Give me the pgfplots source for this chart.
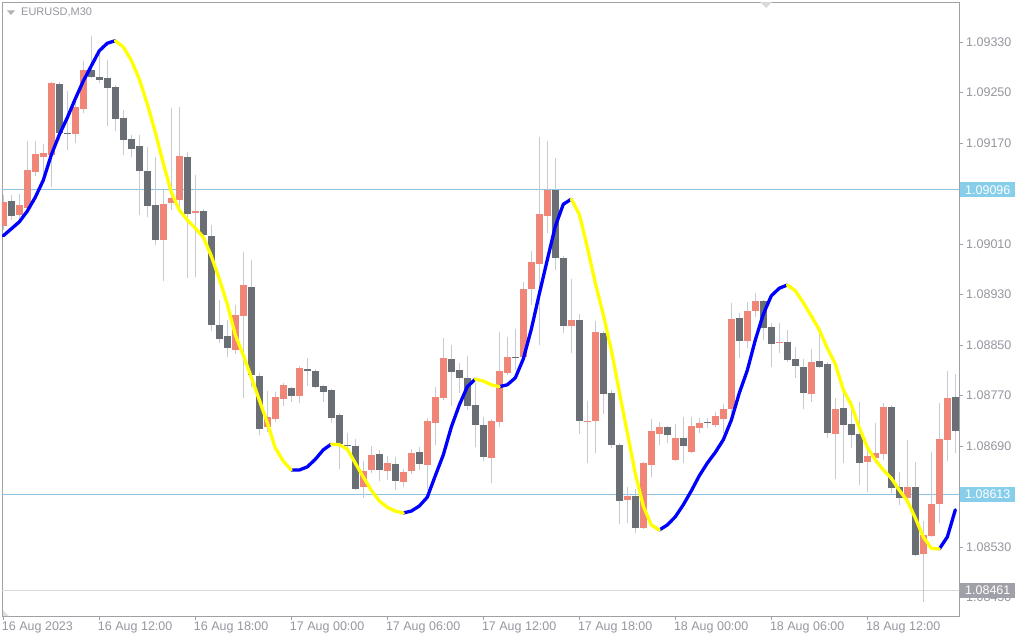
\documentclass[border=0pt]{standalone}
\usepackage{fontspec}
\setmainfont{Liberation Sans}
\usepackage{pgfplots}
\usepackage{pgfplotstable}
\pgfplotsset{compat=1.18}

\definecolor{bull}{RGB}{239,134,120}
\definecolor{bear}{RGB}{106,110,117}
\definecolor{wick}{RGB}{200,202,210}
\definecolor{lblgray}{RGB}{150,150,160}
\definecolor{framegray}{RGB}{160,160,165}
\definecolor{hline}{RGB}{140,195,225}
\definecolor{boxblue}{RGB}{135,206,235}
\definecolor{boxgray}{RGB}{160,160,168}
\definecolor{mablue}{RGB}{0,0,255}
\definecolor{mayellow}{RGB}{255,255,0}

% EURUSD M30: index, open, high, low, close, smoothed line
\pgfplotstableread{
k o h l c m
0 1.09038 1.09088 1.09032 1.09077 1.09023
1 1.09078 1.09088 1.09048 1.09054 1.09034
2 1.09056 1.09089 1.09048 1.09072 1.09045
3 1.09067 1.09173 1.09059 1.09127 1.09062
4 1.09124 1.09173 1.09118 1.09153 1.09084
5 1.09148 1.09168 1.09111 1.09154 1.09111
6 1.09151 1.09267 1.09100 1.09265 1.09151
7 1.09263 1.09267 1.09175 1.09186 1.09183
8 1.09186 1.09252 1.09159 1.09184 1.09210
9 1.09184 1.09238 1.09170 1.09227 1.09240
10 1.09224 1.09300 1.09218 1.09286 1.09268
11 1.09286 1.09340 1.09273 1.09275 1.09292
12 1.09275 1.09319 1.09265 1.09270 1.09316
13 1.09273 1.09301 1.09197 1.09257 1.09328
14 1.09259 1.09262 1.09189 1.09208 1.09332
15 1.09210 1.09222 1.09151 1.09175 1.09322
16 1.09176 1.09183 1.09148 1.09160 1.09301
17 1.09165 1.09183 1.09056 1.09126 1.09271
18 1.09126 1.09164 1.09053 1.09070 1.09232
19 1.09072 1.09148 1.09008 1.09016 1.09187
20 1.09016 1.09096 1.08951 1.09073 1.09138
21 1.09075 1.09225 1.09064 1.09083 1.09092
22 1.09080 1.09227 1.09059 1.09149 1.09064
23 1.09148 1.09156 1.08956 1.09057 1.09048
24 1.09059 1.09119 1.08958 1.09062 1.09035
25 1.09062 1.09065 1.09019 1.09024 1.09021
26 1.09023 1.09040 1.08872 1.08882 1.08991
27 1.08882 1.08921 1.08853 1.08860 1.08955
28 1.08864 1.08890 1.08831 1.08845 1.08915
29 1.08842 1.08913 1.08836 1.08898 1.08866
30 1.08896 1.08997 1.08766 1.08945 1.08834
31 1.08942 1.08985 1.08784 1.08803 1.08799
32 1.08801 1.08806 1.08707 1.08717 1.08763
33 1.08720 1.08777 1.08712 1.08736 1.08727
34 1.08733 1.08776 1.08728 1.08768 1.08687
35 1.08765 1.08790 1.08753 1.08787 1.08666
36 1.08782 1.08784 1.08760 1.08769 1.08652
37 1.08769 1.08817 1.08758 1.08814 1.08652
38 1.08812 1.08829 1.08785 1.08809 1.08657
39 1.08809 1.08812 1.08782 1.08784 1.08669
40 1.08785 1.08787 1.08760 1.08776 1.08684
41 1.08779 1.08780 1.08727 1.08734 1.08693
42 1.08739 1.08742 1.08654 1.08693 1.08692
43 1.08692 1.08711 1.08684 1.08690 1.08685
44 1.08690 1.08701 1.08620 1.08622 1.08663
45 1.08625 1.08666 1.08608 1.08650 1.08641
46 1.08652 1.08690 1.08647 1.08676 1.08620
47 1.08677 1.08684 1.08635 1.08652 1.08603
48 1.08650 1.08674 1.08636 1.08663 1.08593
49 1.08661 1.08673 1.08620 1.08635 1.08587
50 1.08633 1.08654 1.08625 1.08649 1.08584
51 1.08650 1.08685 1.08646 1.08679 1.08587
52 1.08680 1.08688 1.08652 1.08661 1.08595
53 1.08660 1.08734 1.08620 1.08730 1.08609
54 1.08727 1.08784 1.08692 1.08768 1.08643
55 1.08766 1.08861 1.08763 1.08829 1.08676
56 1.08828 1.08850 1.08753 1.08807 1.08720
57 1.08810 1.08822 1.08774 1.08798 1.08755
58 1.08798 1.08833 1.08747 1.08753 1.08784
59 1.08755 1.08790 1.08688 1.08723 1.08796
60 1.08723 1.08736 1.08666 1.08673 1.08793
61 1.08671 1.08733 1.08631 1.08730 1.08787
62 1.08728 1.08871 1.08720 1.08809 1.08784
63 1.08806 1.08863 1.08803 1.08831 1.08787
64 1.08829 1.08875 1.08810 1.08828 1.08798
65 1.08831 1.08950 1.08826 1.08939 1.08828
66 1.08939 1.08999 1.08913 1.08981 1.08875
67 1.08978 1.09180 1.08850 1.09057 1.08931
68 1.09054 1.09173 1.09027 1.09096 1.08985
69 1.09096 1.09146 1.08969 1.08988 1.09038
70 1.08988 1.08991 1.08869 1.08880 1.09073
71 1.08880 1.08955 1.08837 1.08890 1.09081
72 1.08890 1.08899 1.08709 1.08730 1.09057
73 1.08728 1.08761 1.08663 1.08730 1.09005
74 1.08730 1.08888 1.08679 1.08871 1.08948
75 1.08869 1.08872 1.08741 1.08772 1.08898
76 1.08774 1.08779 1.08687 1.08692 1.08842
77 1.08692 1.08695 1.08567 1.08603 1.08776
78 1.08605 1.08625 1.08568 1.08611 1.08711
79 1.08611 1.08622 1.08552 1.08560 1.08646
80 1.08560 1.08665 1.08559 1.08663 1.08595
81 1.08660 1.08733 1.08641 1.08714 1.08565
82 1.08709 1.08728 1.08692 1.08720 1.08557
83 1.08720 1.08722 1.08695 1.08707 1.08565
84 1.08668 1.08725 1.08666 1.08703 1.08578
85 1.08703 1.08736 1.08663 1.08690 1.08597
86 1.08680 1.08736 1.08679 1.08722 1.08619
87 1.08719 1.08734 1.08711 1.08727 1.08643
88 1.08728 1.08734 1.08719 1.08727 1.08663
89 1.08723 1.08744 1.08720 1.08738 1.08680
90 1.08733 1.08757 1.08711 1.08749 1.08700
91 1.08749 1.08917 1.08742 1.08891 1.08731
92 1.08893 1.08901 1.08829 1.08856 1.08774
93 1.08856 1.08918 1.08845 1.08904 1.08810
94 1.08904 1.08932 1.08894 1.08920 1.08858
95 1.08920 1.08921 1.08858 1.08877 1.08899
96 1.08879 1.08885 1.08815 1.08852 1.08928
97 1.08853 1.08885 1.08837 1.08855 1.08940
98 1.08855 1.08874 1.08823 1.08826 1.08945
99 1.08828 1.08847 1.08798 1.08817 1.08936
100 1.08815 1.08828 1.08749 1.08774 1.08917
101 1.08772 1.08844 1.08760 1.08823 1.08896
102 1.08825 1.08874 1.08814 1.08815 1.08874
103 1.08820 1.08823 1.08703 1.08711 1.08845
104 1.08709 1.08766 1.08638 1.08749 1.08820
105 1.08750 1.08776 1.08663 1.08723 1.08779
106 1.08725 1.08761 1.08687 1.08707 1.08755
107 1.08709 1.08760 1.08628 1.08663 1.08719
108 1.08665 1.08692 1.08617 1.08674 1.08688
109 1.08671 1.08727 1.08663 1.08679 1.08668
110 1.08677 1.08758 1.08668 1.08752 1.08652
111 1.08752 1.08755 1.08616 1.08624 1.08639
112 1.08625 1.08649 1.08597 1.08608 1.08620
113 1.08608 1.08700 1.08606 1.08625 1.08603
114 1.08625 1.08665 1.08516 1.08517 1.08576
115 1.08519 1.08571 1.08443 1.08549 1.08546
116 1.08548 1.08680 1.08546 1.08598 1.08528
117 1.08598 1.08758 1.08568 1.08701 1.08527
118 1.08700 1.08809 1.08666 1.08766 1.08546
119 1.08768 1.08804 1.08679 1.08714 1.08589
}\candles

\begin{document}
\begin{tikzpicture}
\useasboundingbox (0,0) rectangle (1024pt,640pt);
\fill[white] (0,0) rectangle (1024pt,640pt);
\begin{axis}[
    at={(2pt,24pt)}, anchor=south west,
    scale only axis, width=957pt, height=614pt,
    xmin=-0.16, xmax=119.46,
    ymin=1.084208, ymax=1.093933,
    axis line style={framegray, line width=0.9pt},
    tick align=outside, major tick length=4pt,
    tick style={framegray, line width=0.9pt},
    xtick pos=bottom, ytick pos=right, yticklabel pos=right,
    xtick={0,12,...,108},
    xticklabels={16 Aug 2023, 16 Aug 12:00, 16 Aug 18:00, 17 Aug 00:00, 17 Aug 06:00, 17 Aug 12:00, 17 Aug 18:00, 18 Aug 00:00, 18 Aug 06:00, 18 Aug 12:00},
    xticklabel style={anchor=north west, inner sep=0pt, xshift=-1.5pt, yshift=-2pt, font=\fontsize{12.5}{14}\selectfont, text=lblgray},
    ytick={1.0845,1.0853,1.0869,1.0877,1.0885,1.0893,1.0901,1.0917,1.0925,1.0933},
    yticklabel style={anchor=west, inner sep=0pt, xshift=3pt, font=\fontsize{12.5}{14}\selectfont, text=lblgray,
        /pgf/number format/.cd, fixed, fixed zerofill, precision=5, assume math mode=true},
    scaled y ticks=false,
    clip=true,
    candle/.style={only marks, mark size=0pt, mark options={draw=none, fill=none},
        error bars/y dir=plus, error bars/y explicit, error bars/error mark=none},
    maline/.style={line width=3.3pt, line join=round, line cap=round},
]
% horizontal levels
\addplot[hline, line width=1pt] coordinates {(-1,1.09096) (121,1.09096)};
\addplot[hline, line width=1pt] coordinates {(-1,1.08613) (121,1.08613)};
\addplot[gray!30, line width=1pt] coordinates {(-1,1.08461) (121,1.08461)};
% wicks
\addplot[candle, error bars/error bar style={line width=1pt, color=wick}]
    table[x=k, y=l, y error expr=\thisrow{h}-\thisrow{l}] {\candles};
% bodies
\addplot[candle, restrict expr to domain={\thisrow{c}-\thisrow{o}}{0:1},
    error bars/error bar style={line width=6.8pt, color=bull}]
    table[x=k, y expr={min(\thisrow{o},\thisrow{c})}, y error expr={max(abs(\thisrow{c}-\thisrow{o}),0.000016)}] {\candles};
\addplot[candle, restrict expr to domain={\thisrow{c}-\thisrow{o}}{-1:0},
    error bars/error bar style={line width=6.8pt, color=bear}]
    table[x=k, y expr={min(\thisrow{o},\thisrow{c})}, y error expr={max(abs(\thisrow{c}-\thisrow{o}),0.000016)}] {\candles};
% smoothed line, blue rising / yellow falling
\addplot[mablue, maline, restrict x to domain=0:14] table[x=k, y=m] {\candles};
\addplot[mablue, maline, restrict x to domain=36:41] table[x=k, y=m] {\candles};
\addplot[mablue, maline, restrict x to domain=50:59] table[x=k, y=m] {\candles};
\addplot[mablue, maline, restrict x to domain=62:71] table[x=k, y=m] {\candles};
\addplot[mablue, maline, restrict x to domain=82:98] table[x=k, y=m] {\candles};
\addplot[mablue, maline, restrict x to domain=117:119] table[x=k, y=m] {\candles};
\addplot[mayellow, maline, restrict x to domain=14:36] table[x=k, y=m] {\candles};
\addplot[mayellow, maline, restrict x to domain=41:50] table[x=k, y=m] {\candles};
\addplot[mayellow, maline, restrict x to domain=59:62] table[x=k, y=m] {\candles};
\addplot[mayellow, maline, restrict x to domain=71:82] table[x=k, y=m] {\candles};
\addplot[mayellow, maline, restrict x to domain=98:117] table[x=k, y=m] {\candles};
\coordinate (p1) at (axis cs:119.46,1.09096);
\coordinate (p2) at (axis cs:119.46,1.08613);
\coordinate (p3) at (axis cs:119.46,1.08461);
\end{axis}
% price boxes on the right scale
\foreach \p/\t/\c in {p1/1.09096/boxblue, p2/1.08613/boxblue, p3/1.08461/boxgray}{
  \node[anchor=west, fill=\c, text=white, inner xsep=5pt, inner ysep=0pt, minimum height=15pt,
        font=\fontsize{12.5}{14}\selectfont] at ([xshift=1pt]\p) {\t};
}
% title
\fill[gray!60] (7pt,629.5pt) -- (15pt,629.5pt) -- (11pt,625pt) -- cycle;
\node[anchor=west, inner sep=0pt, text=lblgray, font=\fontsize{11}{13}\selectfont] at (21pt,627.3pt) {EURUSD,M30};
% shift markers
\fill[gray!30] (760pt,638pt) -- (772pt,638pt) -- (766pt,632pt) -- cycle;
\fill[gray!25] (3pt,24pt) -- (9pt,24pt) -- (3pt,30pt) -- cycle;
\end{tikzpicture}
\end{document}
